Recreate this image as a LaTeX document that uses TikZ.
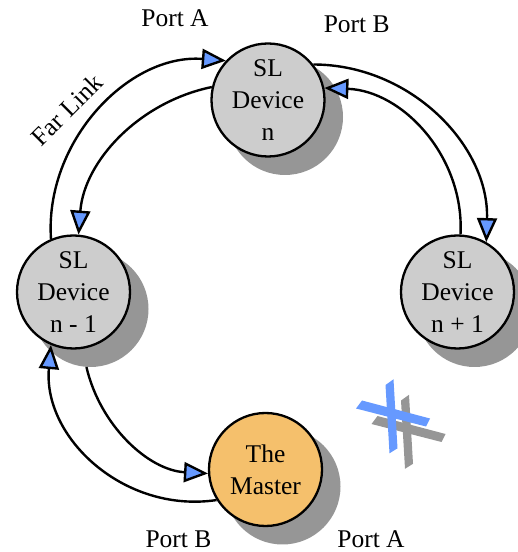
\documentclass[tikz,border=0pt]{standalone}
\usepackage{fontspec}
\setmainfont{Liberation Serif}
\usetikzlibrary{arrows.meta}
\definecolor{devgray}{RGB}{205,205,205}
\definecolor{shadowgray}{RGB}{150,150,150}
\definecolor{masterorange}{RGB}{245,192,108}
\definecolor{tipblue}{RGB}{102,153,255}
\newcommand\ringfont{\fontsize{25.5}{32}\selectfont}

\begin{document}
\begin{tikzpicture}[x=1pt,y=1pt,
  dev/.style={circle, draw=black, line width=2.3pt, minimum size=113pt,
    inner sep=0pt, fill=devgray, align=center, font=\ringfont},
  drop/.style={circle, minimum size=116pt, inner sep=0pt, fill=shadowgray},
  link/.style={line width=2.4pt, -{Triangle[length=24pt,width=20pt,fill=tipblue]}},
  portlabel/.style={anchor=base, font=\ringfont, inner sep=0pt}]
\useasboundingbox (0,0) rectangle (518,552);

% drop shadows behind the devices
\node[drop] (ns)   at (285,435)   {};
\node[drop] (nm1s) at (90.5,243)  {};
\node[drop] (np1s) at (474.5,243) {};
\node[drop] (ms)   at (282.5,65.5) {};

% device placement (drawn later, names needed for the links)
\path (268,452) coordinate (nc) (73.5,260) coordinate (nm1c)
      (457.5,260) coordinate (np1c) (265.5,82.5) coordinate (mc);
\node[dev, fill=none, draw=none] (n)   at (nc)   {};
\node[dev, fill=none, draw=none] (nm1) at (nm1c) {};
\node[dev, fill=none, draw=none] (np1) at (np1c) {};
\node[dev, fill=none, draw=none] (m)   at (mc)   {};

% ring links
\draw[link] (nm1.113.7) to[out=93.8, in=175.7] (n.137);
\draw[link] (n.167) to[out=191.6, in=85.6, looseness=0.95] (nm1.85);
\draw[link] (n.38.7) to[out=0, in=88.3] (np1.60.7);
\draw[link] (np1.87.5) to[out=87.1, in=-2] (n.12);
\draw[link] (m.212) to[out=188.5, in=264.9, looseness=1.05] (nm1.247);
\draw[link] (nm1s.266.5) to[out=283.1, in=176.8, looseness=0.95] (m.184);

% devices
\node[dev] at (nc)   {SL\\Device\\n};
\node[dev] at (nm1c) {SL\\Device\\n - 1};
\node[dev] at (np1c) {SL\\Device\\n + 1};
\node[dev, fill=masterorange] at (mc) {The\\Master};

% port and link labels
\node[portlabel] (pa1) at (175,525)   {Port A};
\node[portlabel] (pb1) at (356.7,519.7) {Port B};
\node[portlabel] (pb2) at (178.5,4.5) {Port B};
\node[portlabel] (pa2) at (371,4.5)   {Port A};
\node[font=\ringfont, rotate=45, inner sep=0pt] (far) at (67,442) {Far Link};

% broken link mark
\begin{scope}[shift={(15.5,-15.5)}]
  \fill[shadowgray] (385.5,167) -- (393.5,172.7) -- (397.5,103.7) -- (389.5,98.7) -- cycle;
  \fill[shadowgray] (362,151.5) -- (430,133.5) -- (426,125.5) -- (356,143.5) -- cycle;
\end{scope}
\fill[tipblue] (385.5,167) -- (393.5,172.7) -- (397.5,103.7) -- (389.5,98.7) -- cycle;
\fill[tipblue] (362,151.5) -- (430,133.5) -- (426,125.5) -- (356,143.5) -- cycle;
\end{tikzpicture}
\end{document}
